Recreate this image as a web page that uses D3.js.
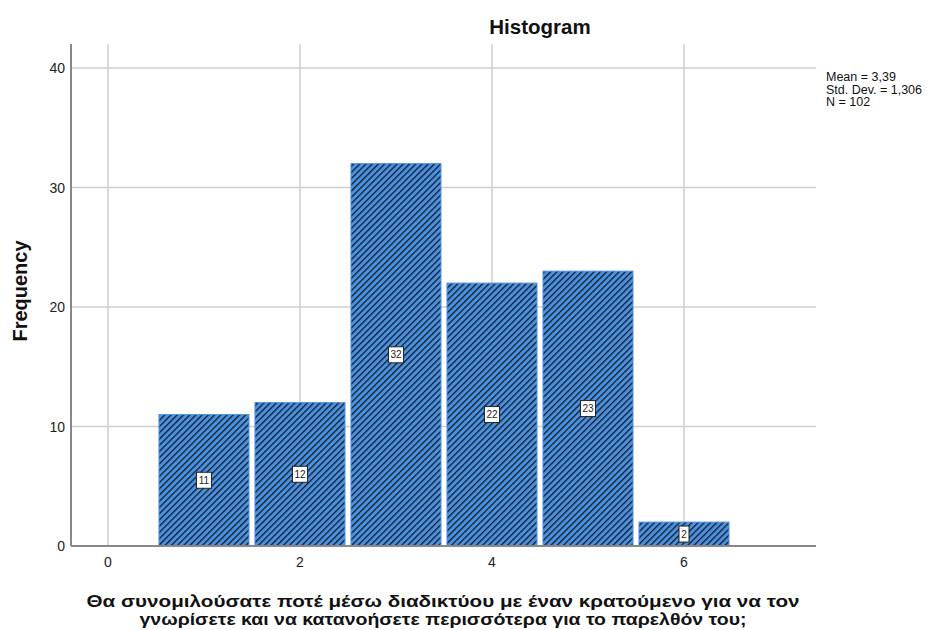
<!DOCTYPE html>
<html><head><meta charset="utf-8">
<script src="https://cdn.jsdelivr.net/npm/d3@7"></script>
<style>body{margin:0;background:#fff}svg{font-family:Arial,"Liberation Sans",sans-serif}</style>
</head><body><svg id="c" width="935" height="630"></svg>
<script>
const binCenters = [1, 2, 3, 4, 5, 6];
const frequencies = [11, 12, 32, 22, 23, 2];
const xTicks = [0, 2, 4, 6];
const yTicks = [0, 10, 20, 30, 40];
const statsLines = ["Mean = 3,39", "Std. Dev. = 1,306", "N = 102"];
const titleText = "Histogram";
const yLabel = "Frequency";
const xLabelLines = ["Θα συνομιλούσατε ποτέ μέσω διαδικτύου με έναν κρατούμενο για να τον", "γνωρίσετε και να κατανοήσετε περισσότερα για το παρελθόν του;"];

const svg = d3.select("#c");
const L = 71, R = 816, T = 44, B = 546;
const x = d3.scaleLinear().domain([-0.385, 7.375]).range([L, R]);
const y = d3.scaleLinear().domain([0, 40]).range([B, 68]);

const defs = svg.append("defs");
const pat = defs.append("pattern").attr("id","hatch").attr("patternUnits","userSpaceOnUse")
  .attr("width",4.4).attr("height",4.4).attr("patternTransform","rotate(45)");
pat.append("rect").attr("width",4.4).attr("height",4.4).attr("fill","#4d92df");
pat.append("rect").attr("x",0).attr("width",1.4).attr("height",4.4).attr("fill","#14233a");

// grid
svg.append("g").selectAll("line").data(xTicks).join("line")
  .attr("x1",d=>x(d)).attr("x2",d=>x(d)).attr("y1",T).attr("y2",B).attr("stroke","#cfcfcf").attr("stroke-width",1.5);
svg.append("g").selectAll("line").data(yTicks.filter(d=>d>0)).join("line")
  .attr("x1",L).attr("x2",R).attr("y1",d=>y(d)).attr("y2",d=>y(d)).attr("stroke","#cfcfcf").attr("stroke-width",1.5);

// bars
const bw = 0.5;
const bars = svg.append("g");
bars.selectAll("rect").data(binCenters).join("rect")
  .attr("x",(d)=>x(d-bw)+3).attr("width",(d)=>x(d+bw)-x(d-bw)-6)
  .attr("y",(d,i)=>y(frequencies[i])).attr("height",(d,i)=>B-y(frequencies[i]))
  .attr("fill","url(#hatch)").attr("stroke","#4d92df").attr("stroke-width",1);

// value labels
const lab = svg.append("g");
binCenters.forEach((d,i)=>{
  const cx = x(d), cy = (y(frequencies[i])+B)/2;
  const t = String(frequencies[i]);
  const w = t.length>1 ? 15 : 10;
  lab.append("rect").attr("x",cx-w/2).attr("y",cy-8).attr("width",w).attr("height",16)
    .attr("fill","#fff").attr("stroke","#222").attr("stroke-width",1);
  lab.append("text").attr("x",cx).attr("y",cy+3.5).attr("text-anchor","middle")
    .attr("font-size",10).attr("fill","#222").text(t);
});

// axes lines
svg.append("line").attr("x1",L).attr("x2",L).attr("y1",T).attr("y2",B).attr("stroke","#888").attr("stroke-width",2);
svg.append("line").attr("x1",L).attr("x2",R).attr("y1",B).attr("y2",B).attr("stroke","#888").attr("stroke-width",2);

// tick labels
svg.append("g").selectAll("text").data(yTicks).join("text")
  .attr("x",L-6).attr("y",d=>y(d)+5).attr("text-anchor","end").attr("font-size",14).attr("fill","#222").text(d=>d);
svg.append("g").selectAll("text").data(xTicks).join("text")
  .attr("x",d=>x(d)).attr("y",B+21).attr("text-anchor","middle").attr("font-size",14).attr("fill","#222").text(d=>d);

// title
svg.append("text").attr("x",540).attr("y",34).attr("text-anchor","middle").attr("font-size",20.5).attr("font-weight","bold").attr("fill","#111").text(titleText);
// y label
svg.append("text").attr("transform","translate(27,291) rotate(-90)").attr("text-anchor","middle").attr("font-size",20).attr("font-weight","bold").attr("fill","#111").text(yLabel);
// x label
const xlW = [713, 607];
svg.append("g").selectAll("text").data(xLabelLines).join("text")
  .attr("x",443).attr("y",(d,i)=>607+i*17.5).attr("text-anchor","middle").attr("font-size",16.5).attr("font-weight","bold").attr("fill","#111")
  .attr("textLength",(d,i)=>xlW[i]).attr("lengthAdjust","spacingAndGlyphs").text(d=>d);
// stats
svg.append("g").selectAll("text").data(statsLines).join("text")
  .attr("x",826).attr("y",(d,i)=>81+i*12.5).attr("font-size",12.5).attr("fill","#111").text(d=>d);
</script></body></html>
